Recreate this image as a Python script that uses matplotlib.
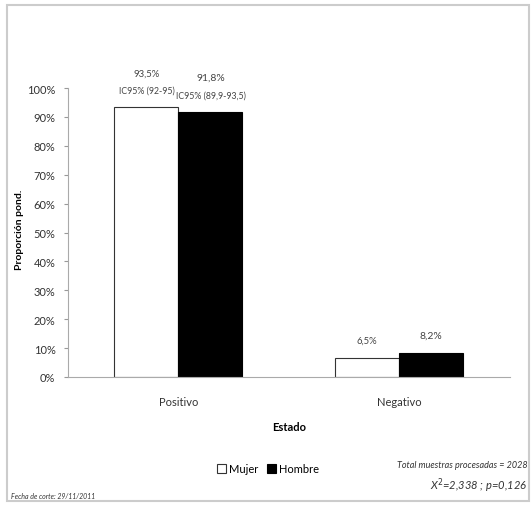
import matplotlib.pyplot as plt
import matplotlib.patches as mpatches
import numpy as np

categories = ['Positivo', 'Negativo']
mujer = [93.5, 6.5]
hombre = [91.8, 8.2]
mujer_labels = ['93,5%', '6,5%']
hombre_labels = ['91,8%', '8,2%']
mujer_ic = ['IC95% (92-95)', '']
hombre_ic = ['IC95% (89,9-93,5)', '']
yticks = [0, 10, 20, 30, 40, 50, 60, 70, 80, 90, 100]

plt.rcParams['font.family'] = ['Lato', 'DejaVu Sans']

fig = plt.figure(figsize=(5.31, 5.06), dpi=100)
ax = fig.add_axes([0.128, 0.253, 0.832, 0.571])

x = np.arange(len(categories))
w = 0.29
ax.bar(x - w / 2, mujer, w, color='white', edgecolor='#333333', linewidth=0.8, label='Mujer')
ax.bar(x + w / 2, hombre, w, color='black', edgecolor='black', linewidth=0.8, label='Hombre')


def annotate(xpos, val, lab, ic, size):
    if ic:
        ax.text(xpos, val + 5.8, ic, ha='center', va='center', fontsize=6.3, color='#444444')
        ax.text(xpos, val + 11.8, lab, ha='center', va='center', fontsize=size, color='#444444')
    else:
        ax.text(xpos, val + 6.2, lab, ha='center', va='center', fontsize=size, color='#444444')


for i in range(len(categories)):
    annotate(x[i] - w / 2, mujer[i], mujer_labels[i], mujer_ic[i], 6.8)
    annotate(x[i] + w / 2, hombre[i], hombre_labels[i], hombre_ic[i], 7.5)

ax.set_xlim(-0.5, 1.5)
ax.set_ylim(0, 100)
ax.set_yticks(yticks)
ax.set_yticklabels([f'{t}%' for t in yticks], fontsize=8, color='#333333')
ax.set_xticks(x)
ax.set_xticklabels(categories, fontsize=8, color='#333333')
ax.tick_params(axis='x', length=0, pad=14)
ax.tick_params(axis='y', length=3, color='#999999', pad=6)
for s in ['top', 'right']:
    ax.spines[s].set_visible(False)
ax.spines['left'].set_color('#aaaaaa')
ax.spines['bottom'].set_color('#aaaaaa')

fig.text(0.036, 0.545, 'Proporción pond.', rotation=90, ha='center', va='center',
         fontsize=7.5, fontweight='bold')
ax.set_xlabel('Estado', fontsize=8, fontweight='bold', labelpad=10)

leg = fig.legend(loc='center', bbox_to_anchor=(0.505, 0.072), ncol=2, frameon=False,
                 fontsize=8, handlelength=0.8, handleheight=0.9, handletextpad=0.3,
                 columnspacing=0.8)

fig.text(0.993, 0.081, 'Total muestras procesadas = 2028', ha='right', va='center',
         fontsize=6.5, style='italic', color='#333333')
fig.text(0.993, 0.04, r'X$^2$=2,338 ; p=0,126', ha='right', va='center',
         fontsize=8, style='italic', color='#333333')
fig.text(0.02, 0.018, 'Fecha de corte: 29/11/2011', ha='left', va='center',
         fontsize=5, style='italic', color='#333333')

fig.patches.append(mpatches.Rectangle((0.013, 0.008), 0.984, 0.98, transform=fig.transFigure,
                                      fill=False, edgecolor='#cccccc', linewidth=1.5))

fig.savefig('out.png', dpi=100)
